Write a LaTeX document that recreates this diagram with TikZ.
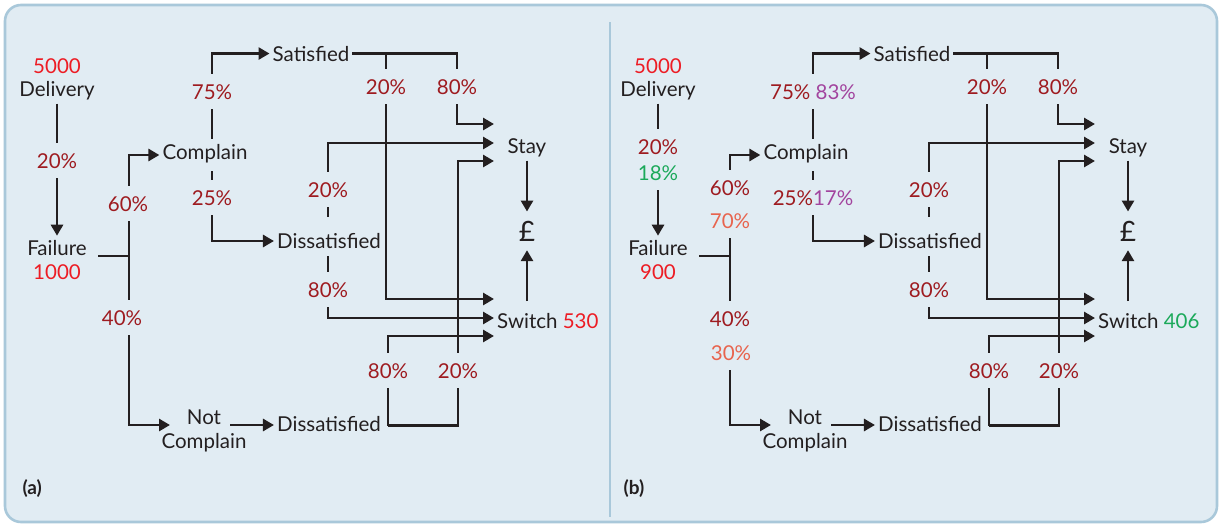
\documentclass[tikz,border=0pt]{standalone}
\usepackage{fontspec}
\setmainfont{Lato}
\usetikzlibrary{arrows.meta}
\definecolor{bg}{HTML}{E1ECF3}
\definecolor{framec}{HTML}{A9C8DA}
\definecolor{ink}{HTML}{231F20}
\definecolor{dred}{HTML}{9E1B20}
\definecolor{bred}{HTML}{ED1C24}
\definecolor{grn}{HTML}{1BA95A}
\definecolor{prp}{HTML}{A2449E}
\definecolor{slm}{HTML}{E8644E}
\pgfdeclarelayer{back}
\pgfdeclarelayer{lines}
\pgfsetlayers{back,lines,main}
\tikzset{
  ln/.style={line width=2.9pt, draw=ink},
  arr/.style={ln, -{Triangle[length=11pt,width=12pt]}},
  txt/.style={font=\fontsize{20.5}{24}\selectfont, text=ink, inner xsep=3pt, inner ysep=4pt, anchor=base},
  num/.style={txt, text=bred},
  pct/.style={txt, text=dred, fill=bg, text height=21pt, text depth=6pt},
  maskc/.style={txt, fill=bg, text height=16pt, text depth=8pt},
  maskd/.style={txt, fill=bg, text height=27pt, text depth=4pt},
  two/.style={font=\fontsize{20.5}{24}\selectfont, text=ink, align=center, inner sep=4pt},
  pound/.style={txt, font=\fontsize{28}{30}\selectfont, inner ysep=9pt},
  panel/.style={font=\fontsize{19}{22}\selectfont\bfseries, text=ink, anchor=base west},
  framel/.style={line width=2.6pt, draw=framec}
}
\begin{document}
\begin{tikzpicture}[x=1pt,y=-1pt]
\useasboundingbox (0,0) rectangle (1221,525);
\begin{pgfonlayer}{back}
  \fill[white] (0,0) rectangle (1221,525);
  \draw[framel, fill=bg, rounded corners=16pt] (5,5) rectangle (1217,522);
  \draw[framel] (610,22) -- (610,517);
\end{pgfonlayer}

% ---------------- panel (a) ----------------
\node[num] (a5000) at (57,73) {5000};
\node[txt] (adel) at (57,96) {Delivery};
\node[pct] (ap20) at (57,168) {20\%};
\node[txt] (afail) at (57,255) {Failure};
\node[num] (a1000) at (57,279) {1000};
\node[pct] (ap60) at (128,211) {60\%};
\node[pct] (ap40) at (122,325) {40\%};
\node[maskc] (acom) at (205,159) {Complain};
\node[two] (anot) at (204,431) {Not\\Complain};
\node[pct] (ap75) at (212,99) {75\%};
\node[pct] (ap25) at (212,205) {25\%};
\node[txt] (asat) at (311,61) {Satisfied};
\node[maskd] (adis1) at (329,248) {Dissatisfied};
\node[txt] (adis2) at (329,431) {Dissatisfied};
\node[pct] (as20) at (386,94) {20\%};
\node[pct] (as80) at (457,94) {80\%};
\node[pct] (ad20) at (328,197) {20\%};
\node[pct] (ad80) at (328,297) {80\%};
\node[pct] (ab80) at (388,378) {80\%};
\node[pct] (ab20) at (458,378) {20\%};
\node[txt] (astay) at (527,153) {Stay};
\node[pound] (apnd) at (527,241) {£};
\node[txt, anchor=base west] (asw) at (494,328) {Switch {\color{bred}530}};
\node[panel] (alab) at (19,494) {(a)};

\coordinate (afo) at (98,256);
\coordinate (aj) at (129,256);
\coordinate (anin) at (170,425);
\coordinate (anout) at (230,425);
\coordinate (ast1) at (494,124);
\coordinate (ast2) at (494,143);
\coordinate (ast3) at (494,161);
\coordinate (asw1) at (494,299);
\coordinate (asw2) at (494,318);
\coordinate (asw3) at (494,336);
\coordinate (aswup) at (527,301);

\begin{pgfonlayer}{lines}
  \draw[arr] (adel.south) -- (afail.north);
  \draw[ln] (afo) -- (aj);
  \draw[arr] (aj) |- (acom.west);
  \draw[arr] (aj) |- (anin);
  \draw[arr] (anout) -- (anout -| adis2.west);
  \draw[arr] (acom.center -| ap75) |- (asat.west);
  \draw[arr] (acom.center -| ap25) |- ([yshift=7pt]adis1.base west);
  \draw[arr] (asat.east) -| (as80) |- (ast1);
  \draw[arr] (asat.east -| as20) |- (asw1);
  \draw[arr] (adis1.center -| ad20) |- (ast2);
  \draw[arr] (adis1.center -| ad80) |- (asw2);
  \draw[arr] ([yshift=-2pt]adis2.east -| ab80) |- (asw3);
  \draw[arr] ([yshift=-2pt]adis2.east -| ab80) -| (ab20) |- (ast3);
  \draw[arr] (astay.south) -- (apnd.north);
  \draw[arr] (aswup) -- (apnd.south);
\end{pgfonlayer}

% ---------------- panel (b) ----------------
\node[num] (b5000) at (658,73) {5000};
\node[txt] (bdel) at (658,96) {Delivery};
\node[pct] (bp20) at (658,154) {20\%};
\node[pct, text=grn] (bp18) at (658,180) {18\%};
\node[txt] (bfail) at (658,255) {Failure};
\node[num] (b900) at (658,279) {900};
\node[pct] (bp60) at (730,195) {60\%};
\node[pct, text=slm] (bp70) at (730,228) {70\%};
\node[pct, text depth=8pt] (bp40) at (730,326) {40\%};
\node[pct, text=slm] (bp30) at (731,360) {30\%};
\node[maskc] (bcom) at (806,159) {Complain};
\node[two] (bnot) at (805,431) {Not\\Complain};
\node[pct] (bp75) at (813,99) {75\% {\color{prp}83\%}};
\node[pct] (bp25) at (813,205) {25\%{\color{prp}17\%}};
\node[txt] (bsat) at (912,61) {Satisfied};
\node[maskd] (bdis1) at (930,248) {Dissatisfied};
\node[txt] (bdis2) at (930,431) {Dissatisfied};
\node[pct] (bs20) at (987,94) {20\%};
\node[pct] (bs80) at (1058,94) {80\%};
\node[pct] (bd20) at (929,197) {20\%};
\node[pct] (bd80) at (929,297) {80\%};
\node[pct] (bb80) at (989,378) {80\%};
\node[pct] (bb20) at (1059,378) {20\%};
\node[txt] (bstay) at (1128,153) {Stay};
\node[pound] (bpnd) at (1128,241) {£};
\node[txt, anchor=base west] (bsw) at (1095,328) {Switch {\color{grn}406}};
\node[panel] (blab) at (620,494) {(b)};

\coordinate (bfo) at (699,256);
\coordinate (bj) at (730,256);
\coordinate (bnin) at (771,425);
\coordinate (bnout) at (831,425);
\coordinate (bst1) at (1095,124);
\coordinate (bst2) at (1095,143);
\coordinate (bst3) at (1095,161);
\coordinate (bsw1) at (1095,299);
\coordinate (bsw2) at (1095,318);
\coordinate (bsw3) at (1095,336);
\coordinate (bswup) at (1128,301);

\begin{pgfonlayer}{lines}
  \draw[arr] (bdel.south) -- (bfail.north);
  \draw[ln] (bfo) -- (bj);
  \draw[arr] (bj) |- (bcom.west);
  \draw[arr] (bj) |- (bnin);
  \draw[arr] (bnout) -- (bnout -| bdis2.west);
  \draw[arr] (bcom.center -| bp75) |- (bsat.west);
  \draw[arr] (bcom.center -| bp25) |- ([yshift=7pt]bdis1.base west);
  \draw[arr] (bsat.east) -| (bs80) |- (bst1);
  \draw[arr] (bsat.east -| bs20) |- (bsw1);
  \draw[arr] (bdis1.center -| bd20) |- (bst2);
  \draw[arr] (bdis1.center -| bd80) |- (bsw2);
  \draw[arr] ([yshift=-2pt]bdis2.east -| bb80) |- (bsw3);
  \draw[arr] ([yshift=-2pt]bdis2.east -| bb80) -| (bb20) |- (bst3);
  \draw[arr] (bstay.south) -- (bpnd.north);
  \draw[arr] (bswup) -- (bpnd.south);
\end{pgfonlayer}
\end{tikzpicture}
\end{document}
